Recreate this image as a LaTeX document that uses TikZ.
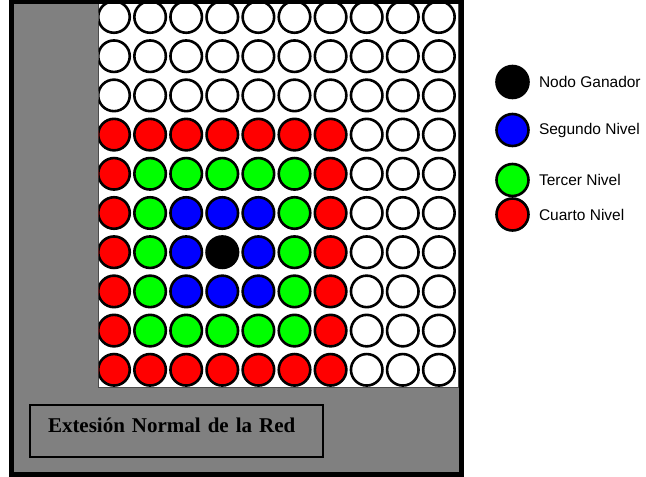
\documentclass[tikz,border=0pt]{standalone}
\usepackage{fontspec}
\setmainfont{Liberation Serif}
\newfontfamily\legfont{Liberation Sans}
\usetikzlibrary{positioning}

\definecolor{framegray}{HTML}{808080}
\colorlet{lvl0}{black}
\definecolor{lvl1}{HTML}{0000FF}
\definecolor{lvl2}{HTML}{00FF00}
\definecolor{lvl3}{HTML}{FF0000}
\colorlet{lvl4}{white}

\begin{document}
\begin{tikzpicture}[x=1pt, y=-1pt,
  dot/.style={circle, draw, line width=2.6pt, minimum size=31.5pt, inner sep=0pt},
  legdot/.style={circle, draw, line width=2.6pt, minimum size=32pt, inner sep=0pt},
  legtext/.style={font=\legfont\fontsize{15.5}{18}\selectfont, inner sep=0pt}]
\useasboundingbox (0,0) rectangle (646,477);
% gray frame with the white grid area
\fill[framegray] (11.5,1.5) rectangle (461,474.5);
\draw[fill=white, draw=black!70, line width=1pt] (98,3) rectangle (458,387);
% grid of nodes, coloured by distance to the winner
\begin{scope}
\clip (98.5,3) rectangle (458,386.5);
\foreach \r in {1,...,10}{
  \foreach \c in {1,...,10}{
    \pgfmathtruncatemacro{\lev}{min(max(abs(\r-7),abs(\c-4)),4)}
    \node[dot, fill=lvl\lev] (d-\r-\c) at ({114+36.1*(\c-1)},{17+39.2*(\r-1)}) {};
  }
}
\end{scope}
\draw[line width=5pt] (11.5,1.5) rectangle (461,474.5);
% caption box
\node[draw, line width=1.5pt, fill=framegray, inner xsep=18pt, inner ysep=0pt,
  text width=257pt, align=left, text height=27pt, text depth=25pt,
  font=\fontsize{21}{24}\selectfont\bfseries] (ext) at (176.5,431) {Extesión Normal de la Red};
% legend
\node[legdot, fill=black] (ganador) at (512.5,82) {};
\node[legdot, fill=lvl1] (segundo) at (512.5,130) {};
\node[legdot, fill=lvl2] (tercer) at (512.5,180) {};
\node[legdot, fill=lvl3] (cuarto) at (512.5,214.5) {};
\node[legtext, right=9pt of ganador] (t-ganador) {Nodo Ganador};
\node[legtext, right=9pt of segundo] (t-segundo) {Segundo Nivel};
\node[legtext, right=9pt of tercer] (t-tercer) {Tercer Nivel};
\node[legtext, right=9pt of cuarto] (t-cuarto) {Cuarto Nivel};
\end{tikzpicture}
\end{document}
